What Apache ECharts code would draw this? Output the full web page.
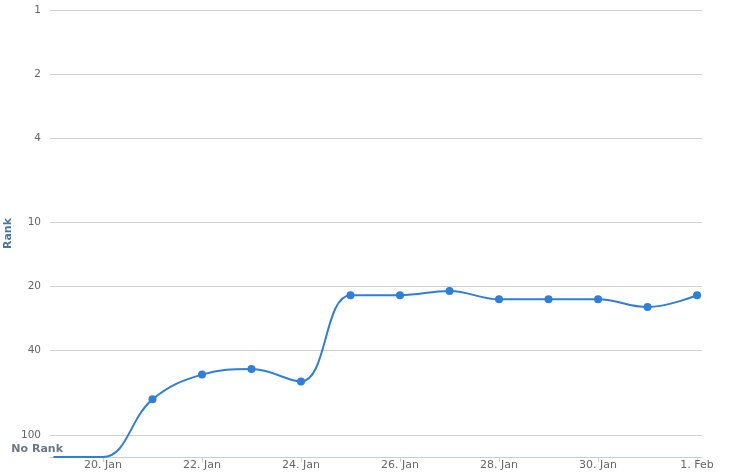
<!DOCTYPE html>
<html>
<head>
<meta charset="utf-8">
<script src="https://cdn.jsdelivr.net/npm/echarts@6/dist/echarts.min.js"></script>
<style>
html,body{margin:0;padding:0;background:#fff;}
#c{width:743px;height:475px;}
</style>
</head>
<body>
<div id="c"></div>
<script>
// Dates (UTC), ranks (null = No Rank)
const dates = ['2013-01-19','2013-01-20','2013-01-21','2013-01-22','2013-01-23','2013-01-24','2013-01-25','2013-01-26','2013-01-27','2013-01-28','2013-01-29','2013-01-30','2013-01-31','2013-02-01'];
const ranks = [null, null, 68, 52, 49, 56, 22, 22, 21, 23, 23, 23, 25, 22];
const NO_RANK = 127;
const yTicks = [1, 2, 4, 10, 20, 40, 100];
const xTickDates = ['2013-01-20','2013-01-22','2013-01-24','2013-01-26','2013-01-28','2013-01-30','2013-02-01'];
const months = ['Jan','Feb','Mar','Apr','May','Jun','Jul','Aug','Sep','Oct','Nov','Dec'];

const DAY = 86400e3;
const toTs = s => Date.parse(s + 'T00:00:00Z');
const base = toTs(dates[0]);
const toDay = s => (toTs(s) - base) / DAY;
const data = dates.map((d, i) => {
  const r = ranks[i];
  return r === null
    ? {value: [toDay(d), NO_RANK], symbol: 'none'}
    : {value: [toDay(d), r]};
});

const chart = echarts.init(document.getElementById('c'), null, {renderer: 'canvas'});
const font = '"DejaVu Sans", Verdana, sans-serif';
chart.setOption({
  animation: false,
  backgroundColor: '#fff',
  grid: {left: 50, right: 41, top: 10, bottom: 18, containLabel: false, outerBoundsMode: 'none'},
  xAxis: {
    type: 'value',
    min: -0.07,
    max: toDay('2013-02-01') + 0.1,
    axisLine: {lineStyle: {color: '#C0D0E0', width: 1}},
    axisTick: {show: true, length: 5, lineStyle: {color: '#C0D0E0'}, customValues: xTickDates.map(toDay)},
    axisLabel: {
      customValues: xTickDates.map(toDay),
      color: '#666', fontSize: 11, fontFamily: font, margin: 3,
      formatter: v => { const d = new Date(base + Math.round(v) * DAY); return d.getUTCDate() + '. ' + months[d.getUTCMonth()]; }
    },
    splitLine: {show: false}
  },
  yAxis: {
    type: 'log',
    logBase: 10,
    inverse: true,
    min: 1,
    max: NO_RANK,
    name: 'Rank',
    nameLocation: 'middle',
    nameGap: 36,
    nameMoveOverlap: false,
    nameRotate: 90,
    nameTextStyle: {color: '#4d759e', fontWeight: 'bold', fontSize: 11, fontFamily: font},
    axisLine: {show: false},
    axisTick: {show: false, customValues: yTicks},
    axisLabel: {
      customValues: yTicks.concat([117]),
      color: '#666', fontSize: 10.5, fontFamily: font, margin: 9,
      formatter: v => v > 105 ? '{nr|No Rank}' : String(Math.round(v)),
      rich: {nr: {color: '#6b7686', fontWeight: 'bold', fontSize: 11, fontFamily: font, padding: [0, -22, 0, 0]}}
    },
    splitLine: {show: true, lineStyle: {color: '#d0d0d0', width: 1}}
  },
  series: [{
    type: 'line',
    data: data,
    smooth: 0.4,
    symbol: 'circle',
    symbolSize: 8,
    showSymbol: true,
    lineStyle: {color: '#2f7ed8', width: 2},
    itemStyle: {color: '#2f7ed8'}
  }]
});
</script>
</body>
</html>
